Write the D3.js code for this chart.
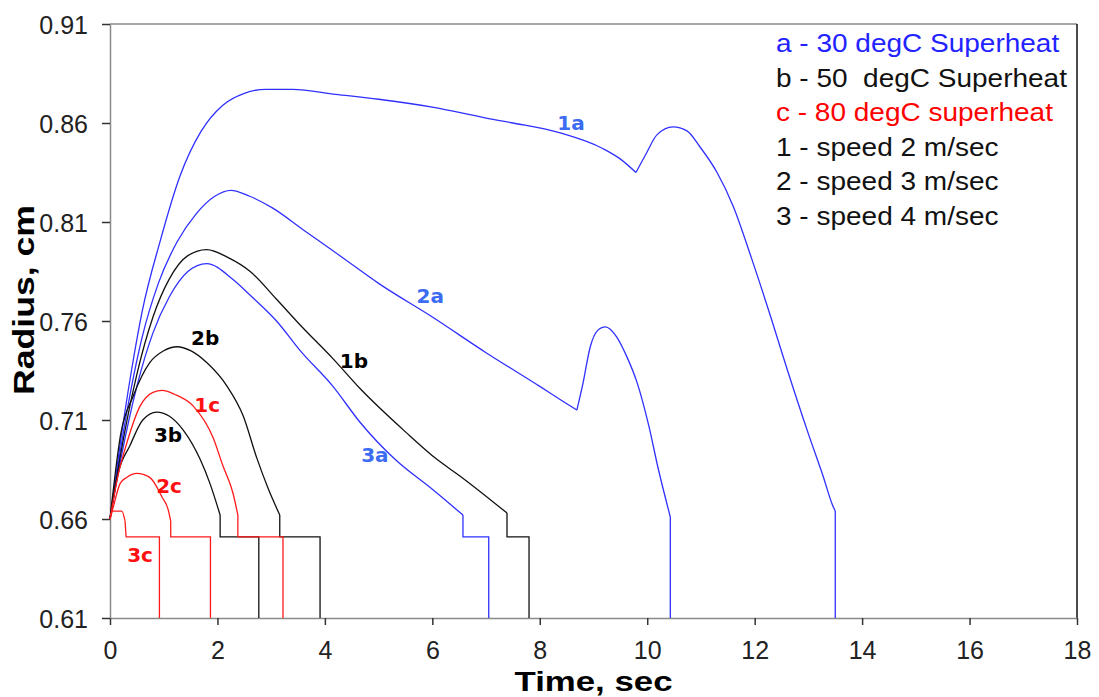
<!DOCTYPE html>
<html>
<head>
<meta charset="utf-8">
<script src="https://cdn.jsdelivr.net/npm/d3@7"></script>
<style>
  body { margin: 0; background: #fff; }
  text { font-family: "Liberation Sans", Arial, sans-serif; }
</style>
</head>
<body>
<div id="myPlot"></div>
<script>
// Set Dimensions
const width = 1099;
const height = 697;
const plotLeft = 110, plotRight = 1077, plotTop = 24, plotBottom = 618;

// Tick labels
const xTicks = [0, 2, 4, 6, 8, 10, 12, 14, 16, 18];
const yTicks = [0.61, 0.66, 0.71, 0.76, 0.81, 0.86, 0.91];

// Curves: [time sec, radius cm], smooth parts then the step tail
const c1a = [[0,0.66],[0.2,0.70],[0.4,0.735],[0.6,0.765],[0.93,0.80],[1.3,0.833],[1.7,0.856],[2.1,0.869],[2.5,0.875],[2.9,0.877],[3.4,0.877],[4.2,0.8745],[5.0,0.872],[6.0,0.868],[7.0,0.8625],[7.5,0.86],[8.38,0.855],[9.18,0.847],[9.49,0.842],[9.79,0.835]];
const c1aHump = [[9.79,0.835],[9.99,0.845],[10.18,0.854],[10.48,0.858],[10.74,0.856],[10.98,0.848],[11.3,0.835],[11.6,0.818],[11.95,0.791],[12.3,0.762],[12.6,0.736],[13.0,0.703],[13.27,0.682],[13.45,0.667],[13.5,0.664]];
const c1aStep = [[13.5,0.664],[13.5,0.61]];

const c2a = [[0,0.66],[0.3,0.712],[0.6,0.752],[0.9,0.779],[1.25,0.80],[1.6,0.814],[1.95,0.823],[2.25,0.826],[2.6,0.823],[3.03,0.817],[3.6,0.806],[4.28,0.793],[5,0.779],[6,0.762],[7,0.744],[8,0.727],[8.4,0.72],[8.69,0.715]];
const c2aHump = [[8.69,0.715],[8.8,0.728],[8.94,0.747],[9.07,0.755],[9.22,0.757],[9.43,0.752],[9.62,0.742],[9.81,0.729],[10.03,0.707],[10.2,0.686],[10.43,0.661]];
const c2aStep = [[10.43,0.661],[10.43,0.61]];

const c3a = [[0,0.66],[0.2,0.69],[0.5,0.727],[0.8,0.754],[1.1,0.772],[1.45,0.785],[1.8,0.789],[2.29,0.781],[2.61,0.773],[3.1,0.76],[3.54,0.745],[4.15,0.727],[4.65,0.709],[5.31,0.69],[6.0,0.675],[6.57,0.662]];
const c3aStep = [[6.57,0.662],[6.57,0.651],[7.05,0.651],[7.05,0.61]];

const c1b = [[0,0.66],[0.2,0.693],[0.5,0.733],[0.8,0.762],[1.1,0.781],[1.45,0.793],[1.8,0.796],[2.2,0.792],[2.61,0.785],[3.1,0.771],[3.54,0.758],[4.15,0.741],[4.65,0.726],[5.5,0.704],[6.09,0.69],[6.5,0.682],[7.39,0.663]];
const c1bStep = [[7.39,0.663],[7.39,0.651],[7.8,0.651],[7.8,0.61]];

const c2b = [[0,0.66],[0.2,0.703],[0.43,0.722],[0.74,0.739],[1.0,0.745],[1.25,0.747],[1.5,0.745],[1.8,0.739],[2.18,0.727],[2.48,0.712],[2.73,0.691],[2.95,0.675],[3.16,0.662]];
const c2bStep = [[3.16,0.662],[3.16,0.651],[3.91,0.651],[3.91,0.61]];

const c3b = [[0,0.66],[0.15,0.683],[0.37,0.697],[0.61,0.71],[0.87,0.714],[1.1,0.712],[1.36,0.705],[1.68,0.69],[1.86,0.678],[2.05,0.662]];
const c3bStep = [[2.05,0.662],[2.05,0.651],[2.77,0.651],[2.77,0.61]];

const c1c = [[0,0.66],[0.15,0.682],[0.32,0.699],[0.56,0.717],[0.8,0.724],[0.97,0.725],[1.2,0.723],[1.55,0.717],[1.92,0.701],[2.1,0.687],[2.29,0.673],[2.38,0.662]];
const c1cStep = [[2.38,0.662],[2.38,0.651],[3.22,0.651],[3.22,0.61]];

const c2c = [[0,0.66],[0.06,0.666],[0.19,0.678],[0.31,0.681],[0.5,0.683],[0.74,0.681],[0.97,0.671],[1.08,0.665],[1.13,0.659]];
const c2cStep = [[1.13,0.659],[1.13,0.651],[1.87,0.651],[1.87,0.61]];

const c3c = [[0,0.66],[0.05,0.664],[0.22,0.664],[0.28,0.659]];
const c3cStep = [[0.28,0.659],[0.3,0.651],[0.92,0.651],[0.92,0.61]];

// Curve labels: name, time, radius
const curveLabels = [
  ["1a", 8.58, 0.860, "a"], ["2a", 5.96, 0.7726, "a"], ["3a", 4.93, 0.6923, "a"],
  ["1b", 4.54, 0.7398, "b"], ["2b", 1.77, 0.7514, "b"], ["3b", 1.08, 0.7024, "b"],
  ["1c", 1.81, 0.7176, "c"], ["2c", 1.10, 0.6767, "c"], ["3c", 0.56, 0.6418, "c"]
];

const legendItems = [
  ["a - 30 degC Superheat", "a"],
  ["b - 50  degC Superheat", "b"],
  ["c - 80 degC superheat", "c"],
  ["1 - speed 2 m/sec", "k"],
  ["2 - speed 3 m/sec", "k"],
  ["3 - speed 4 m/sec", "k"]
];

const lineColor = { a: "#3030ff", b: "#111111", c: "#ff1a1a" };
const labelColor = { a: "#3b6cf2", b: "#000000", c: "#ff1010" };
const legendColor = { a: "#2323ff", b: "#111111", c: "#ff0000", k: "#111111" };

const series = [
  { g: "a", smooth: [c1a, c1aHump], step: c1aStep },
  { g: "a", smooth: [c2a, c2aHump], step: c2aStep },
  { g: "a", smooth: [c3a], step: c3aStep },
  { g: "b", smooth: [c1b], step: c1bStep },
  { g: "b", smooth: [c2b], step: c2bStep },
  { g: "b", smooth: [c3b], step: c3bStep },
  { g: "c", smooth: [c1c], step: c1cStep },
  { g: "c", smooth: [c2c], step: c2cStep },
  { g: "c", smooth: [c3c], step: c3cStep }
];

const svg = d3.select("#myPlot")
  .append("svg")
  .attr("width", width)
  .attr("height", height);

// X Axis
const x = d3.scaleLinear().domain([0, 18]).range([plotLeft, plotRight]);
// Y Axis
const y = d3.scaleLinear().domain([0.61, 0.91]).range([plotBottom, plotTop]);

// plot border (top, right)
svg.append("line").attr("x1", plotLeft).attr("x2", plotRight).attr("y1", plotTop).attr("y2", plotTop)
  .attr("stroke", "#8a8a8a").attr("stroke-width", 1.5);
svg.append("line").attr("x1", plotRight).attr("x2", plotRight).attr("y1", plotTop).attr("y2", plotBottom)
  .attr("stroke", "#111").attr("stroke-width", 1.5);

const xAxis = svg.append("g")
  .attr("transform", "translate(0," + plotBottom + ")")
  .call(d3.axisBottom(x).tickValues(xTicks).tickSize(7).tickSizeOuter(0).tickPadding(16));
const yAxis = svg.append("g")
  .attr("transform", "translate(" + plotLeft + ",0)")
  .call(d3.axisLeft(y).tickValues(yTicks).tickFormat(d3.format(".2f")).tickSize(8).tickSizeOuter(0).tickPadding(14));

[xAxis, yAxis].forEach(function (ax) {
  ax.select(".domain").attr("stroke", "#8a8a8a").attr("stroke-width", 1.5);
  ax.selectAll(".tick line").attr("stroke", "#333").attr("stroke-width", 1.5);
  ax.selectAll(".tick text").attr("fill", "#222")
    .style("font-family", "'Liberation Sans', Arial, sans-serif").style("font-size", "25px");
});
yAxis.selectAll(".tick text").attr("dy", "0.36em");

// Lines
const smoothLine = d3.line().x(d => x(d[0])).y(d => y(d[1])).curve(d3.curveMonotoneX);
const stepLine = d3.line().x(d => x(d[0])).y(d => y(d[1]));

const lines = svg.append("g").attr("fill", "none").attr("stroke-width", 1.3);
series.forEach(function (s) {
  s.smooth.forEach(function (part) {
    lines.append("path").attr("d", smoothLine(part)).attr("stroke", lineColor[s.g]);
  });
  lines.append("path").attr("d", stepLine(s.step)).attr("stroke", lineColor[s.g]);
});

// Curve labels
svg.append("g")
  .selectAll("text")
  .data(curveLabels).enter()
  .append("text")
  .attr("x", d => x(d[1]))
  .attr("y", d => y(d[2]))
  .attr("text-anchor", "middle")
  .attr("dy", "0.36em")
  .style("font-family", "'DejaVu Sans', Verdana, sans-serif")
  .style("font-weight", "bold")
  .style("font-size", "20px")
  .attr("fill", d => labelColor[d[3]])
  .text(d => d[0]);

// Legend
const legend = svg.append("g").attr("transform", "translate(776,43)");
legend.selectAll("text")
  .data(legendItems).enter()
  .append("text")
  .attr("transform", (d, i) => "translate(0," + (i * 34.6) + ") scale(1.12,1)")
  .attr("dy", "0.36em")
  .style("font-size", "25px")
  .style("white-space", "pre")
  .attr("fill", d => legendColor[d[1]])
  .text(d => d[0]);

// Axis titles
svg.append("text")
  .attr("x", (plotLeft + plotRight) / 2 + 3)
  .attr("y", 691)
  .attr("textLength", 158)
  .attr("lengthAdjust", "spacingAndGlyphs")
  .attr("text-anchor", "start")
  .attr("dx", -82)
  .style("font-weight", "bold")
  .style("font-size", "28px")
  .text("Time, sec");

svg.append("text")
  .attr("transform", "translate(34,300) rotate(-90)")
  .attr("text-anchor", "middle")
  .attr("textLength", 190)
  .attr("lengthAdjust", "spacingAndGlyphs")
  .style("font-weight", "bold")
  .style("font-size", "29px")
  .text("Radius, cm");
</script>
</body>
</html>
